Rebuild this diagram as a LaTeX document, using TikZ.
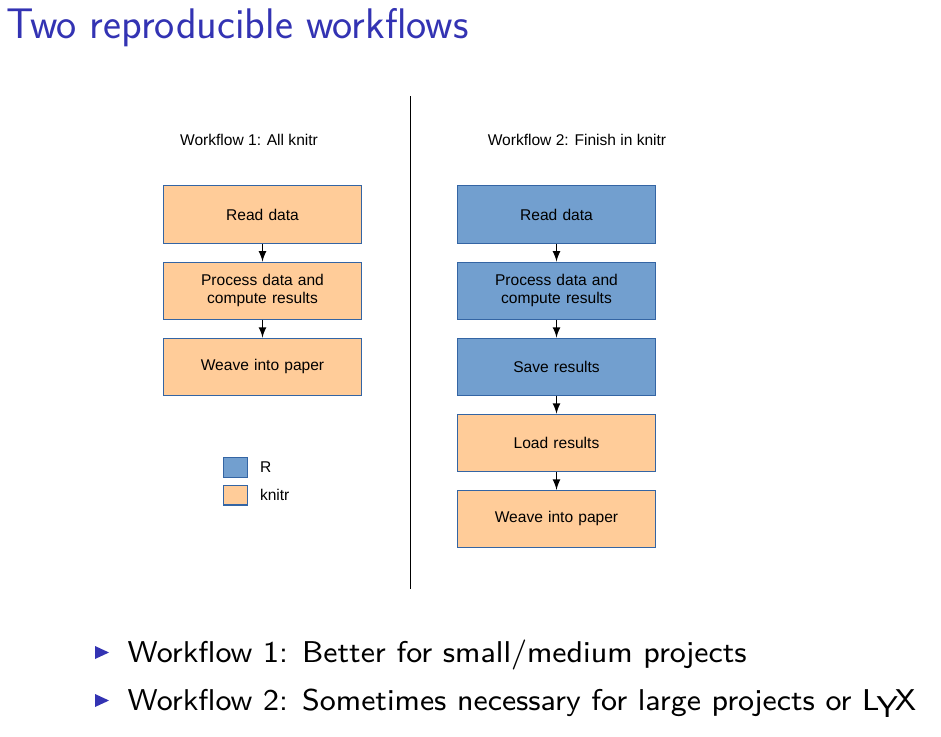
\documentclass[tikz,border=0pt]{standalone}
\usepackage{fontspec}
\newfontfamily\diafont{Liberation Sans}
\newfontfamily\itemfont{lmsans8-regular.otf}
\usetikzlibrary{positioning,arrows}
\definecolor{rblue}{HTML}{729FCF}
\definecolor{knorange}{HTML}{FFCC99}
\definecolor{boxline}{HTML}{3465A4}
\definecolor{structblue}{RGB}{51,51,179}
\tikzset{
	rbox/.style={draw=boxline,fill=rblue,minimum width=76pt,minimum height=22pt,text width=72pt,align=center,inner sep=0pt,font=\diafont\fontsize{6}{7}\selectfont},
	kbox/.style={rbox,fill=knorange},
	keybox/.style={draw=boxline,minimum width=8.9pt,minimum height=7.7pt,inner sep=0pt},
	mylabel/.style={inner sep=0pt,font=\diafont\fontsize{6}{7}\selectfont},
	myarrow/.style={->,>=latex,line width=0.4pt},
	bullettext/.style={anchor=base west,inner sep=0pt,font=\itemfont\fontsize{11.6}{13}\selectfont}
}

\begin{document}
\begin{tikzpicture}[x=0.3856pt,y=-0.3856pt,node distance=6.94pt]
		\fill[white] (0,0) rectangle (941,737);
		\useasboundingbox (0,0) rectangle (941,737);
		\node[anchor=base west,inner sep=0pt,text=structblue,font=\sffamily\fontsize{16.5}{19}\selectfont](title) at (5.5,38.5){Two reproducible workflows};
		% workflow 1
		\node[mylabel](head1) at (249,140){Workflow 1: All knitr};
		\node[kbox](read1) at (262.5,214.5){Read data};
		\node[below = of read1,kbox](process1){Process data and\\compute results};
		\draw[myarrow] (read1) -- (process1);
		\node[below = of process1,kbox](weave1){Weave into paper};
		\draw[myarrow] (process1) -- (weave1);
		% legend
		\node[keybox,fill=rblue](keyR) at (235.5,467.5){};
		\node[mylabel,anchor=west](labR) at ([xshift=4.6pt]keyR.east){R};
		\node[keybox,fill=knorange](keyK) at (235.5,495){};
		\node[mylabel,anchor=west](labK) at ([xshift=4.6pt]keyK.east){knitr};
		% separator
		\coordinate (septop) at (410.5,96);
		\coordinate (sepbot) at (410.5,589);
		\draw[line width=0.4pt] (septop) -- (sepbot);
		% workflow 2
		\node[mylabel](head2) at (577,140){Workflow 2: Finish in knitr};
		\node[rbox](read2) at (556.5,214.5){Read data};
		\node[below = of read2,rbox](process2){Process data and\\compute results};
		\draw[myarrow] (read2) -- (process2);
		\node[below = of process2,rbox](save2){Save results};
		\draw[myarrow] (process2) -- (save2);
		\node[below = of save2,kbox](load2){Load results};
		\draw[myarrow] (save2) -- (load2);
		\node[below = of load2,kbox](weave2){Weave into paper};
		\draw[myarrow] (load2) -- (weave2);
		% bullets
		\fill[structblue] (95,646) -- (109,652.5) -- (95,659) -- cycle;
		\node[bullettext](item1) at (127,662){Workflow 1: Better for small/medium projects};
		\fill[structblue] (95,694) -- (109,700.5) -- (95,707) -- cycle;
		\node[bullettext](item2) at (127,710){Workflow 2: Sometimes necessary for large projects or L\kern-.1em\lower.25em\hbox{Y}\kern-.1emX};
	\end{tikzpicture}
\end{document}
